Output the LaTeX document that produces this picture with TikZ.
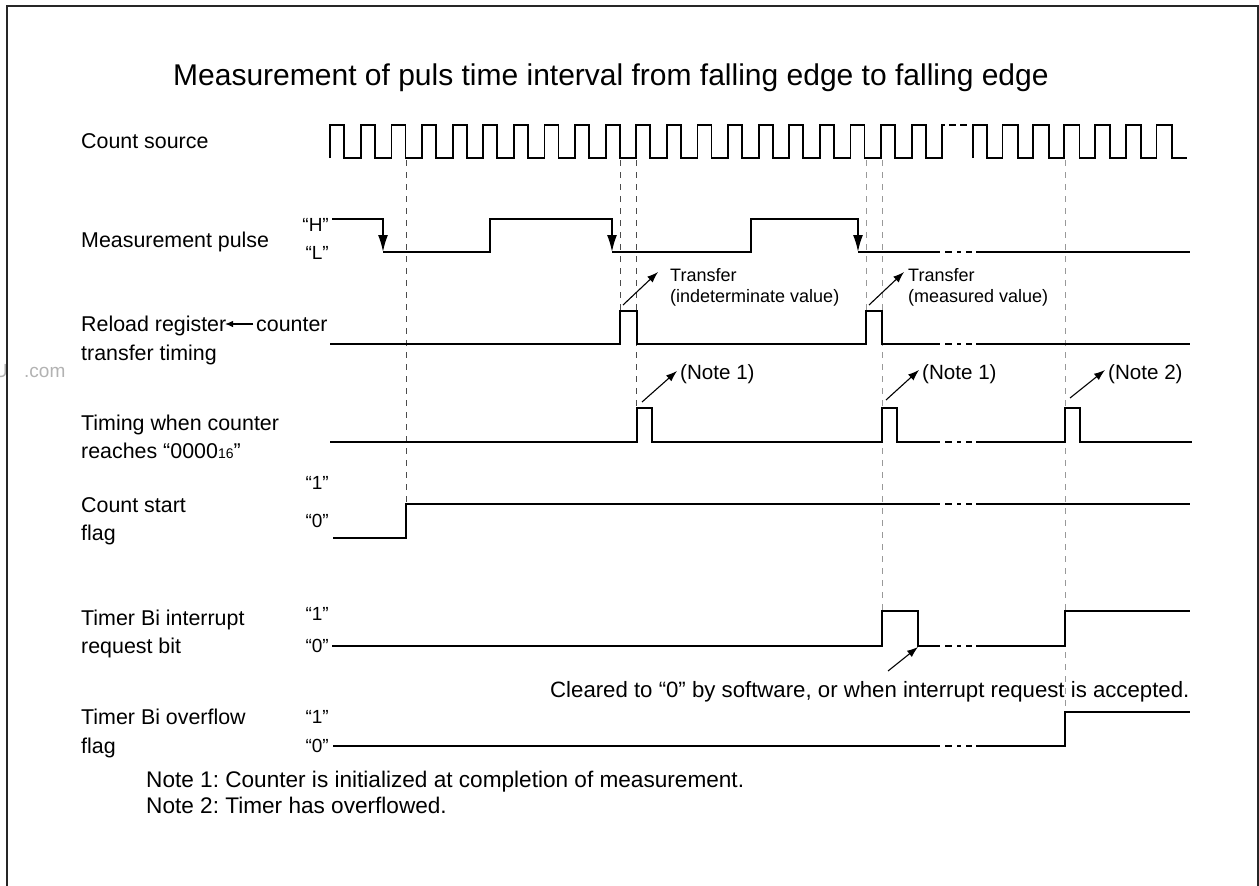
\documentclass[tikz,border=0pt]{standalone}
\usepackage{fontspec}
\setmainfont{Liberation Sans}
\usetikzlibrary{arrows.meta}
\newcommand\wbreak[1]{%
  \draw[wave,line cap=butt] (945,#1) -- (952,#1) (957,#1) -- (961,#1) (966,#1) -- (972,#1);}
\begin{document}
\frenchspacing
\begin{tikzpicture}[x=1pt,y=-1pt,
  wave/.style={line width=1.8pt, line join=miter},
  guidedark/.style={black!70, line width=0.9pt, dash pattern=on 6pt off 6pt},
  guidelight/.style={black!40, line width=0.9pt, dash pattern=on 6pt off 6pt},
  lbl/.style={anchor=base west, inner sep=0pt, font=\fontsize{21.4}{25}\selectfont},
  lvl/.style={anchor=base east, inner sep=0pt, font=\fontsize{19}{22}\selectfont},
  anno/.style={anchor=base west, inner sep=0pt, font=\fontsize{18}{21}\selectfont},
  notelbl/.style={anchor=base west, inner sep=0pt, font=\fontsize{20.6}{24}\selectfont},
  textlbl/.style={anchor=base west, inner sep=0pt, font=\fontsize{22.2}{26}\selectfont},
  pointer/.style={line width=1.1pt, -{Latex[length=11pt,width=8pt]}},
  edgearrow/.style={line width=1.8pt, -{Latex[length=17pt,width=10pt]}}]
\useasboundingbox (0,0) rectangle (1259,886);
% watermark
\node[anchor=base east, inner sep=0pt, text=black!30, font=\fontsize{19}{22}\selectfont] (wmu) at (8,377) {U};
\node[anchor=base west, inner sep=0pt, text=black!30, font=\fontsize{19}{22}\selectfont] (wmc) at (24,377) {.com};
% frame
\draw[line width=2pt, black!85] (7,890) -- (7,6) -- (1258,6) -- (1258,890);
% title
\node[anchor=base west, inner sep=0pt, font=\fontsize{30}{34}\selectfont] (title) at (173,85)
  {Measurement of puls time interval from falling edge to falling edge};
% left labels
\node[lbl] (cs) at (81,148) {Count source};
\node[lbl] (mp) at (81,247) {Measurement pulse};
\node[lbl] (rr) at (81,331) {Reload register};
\node[lbl] (rc) at (256,331) {counter};
\node[lbl] (tt) at (81,360) {transfer timing};
\node[lbl] (tw) at (81,430) {Timing when counter};
\node[lbl] (tr) at (81,458) {reaches “0000{\fontsize{14}{16}\selectfont 16}”};
\node[lbl] (st1) at (81,512) {Count start};
\node[lbl] (st2) at (81,540) {flag};
\node[lbl] (ir1) at (81,625) {Timer Bi interrupt};
\node[lbl] (ir2) at (81,653) {request bit};
\node[lbl] (of1) at (81,724) {Timer Bi overflow};
\node[lbl] (of2) at (81,753) {flag};
\coordinate (rca) at (253,324);
\coordinate (rra) at (225,324);
\draw[line width=1.2pt, -{Latex[length=8pt,width=6.5pt]}] (rca) -- (rra);
% level labels
\node[lvl] (lh) at (329,231) {“H”};
\node[lvl] (ll) at (329,259) {“L”};
\node[lvl] (s1) at (329,489) {“1”};
\node[lvl] (s0) at (329,527) {“0”};
\node[lvl] (i1) at (329,620) {“1”};
\node[lvl] (i0) at (329,652) {“0”};
\node[lvl] (o1) at (329,723) {“1”};
\node[lvl] (o0) at (329,752) {“0”};
% guides
\draw[guidedark] (406,160) -- (406,504);
\draw[guidedark] (620,160) -- (620,311);
\draw[guidedark] (636,160) -- (636,408);
\draw[guidelight] (866,160) -- (866,311);
\draw[guidelight] (882,160) -- (882,611);
\draw[guidelight] (1065,160) -- (1065,712);
% count source clock
\draw[wave] (330,158) -- (330,125)
  \foreach \k in {0,...,19} { -- ({344.3+30.6*\k},125) -- ({344.3+30.6*\k},158) -- ({360.8+30.6*\k},158) -- ({360.8+30.6*\k},125) }
  -- (945,125);
\draw[wave,line cap=butt] (949,125) -- (956,125) (960,125) -- (967,125);
\draw[wave] (973,158) -- (973,125)
  \foreach \k in {0,...,5} { -- ({987+30.8*\k},125) -- ({987+30.8*\k},158) -- ({1002.5+30.8*\k},158) -- ({1002.5+30.8*\k},125) }
  -- (1172,125) -- (1172,158) -- (1187,158);
% measurement pulse
\draw[wave] (332,219) -- (383,219);
\draw[edgearrow] (383,218) -- (383,252);
\draw[wave] (383,252) -- (490,252) -- (490,219) -- (612,219);
\draw[edgearrow] (612,218) -- (612,252);
\draw[wave] (612,252) -- (751,252) -- (751,219) -- (858,219);
\draw[edgearrow] (858,218) -- (858,252);
\draw[wave] (858,252) -- (940,252);
\wbreak{252}
\draw[wave] (976,252) -- (1190,252);
% reload register transfer timing
\draw[wave] (330,344) -- (620,344) -- (620,311) -- (637,311) -- (637,344) -- (866,344) -- (866,311) -- (882,311) -- (882,344) -- (940,344);
\wbreak{344}
\draw[wave] (976,344) -- (1190,344);
% timing counter reaches 0000
\draw[wave] (330,442) -- (637,442) -- (637,408) -- (652,408) -- (652,442) -- (882,442) -- (882,408) -- (897,408) -- (897,442) -- (940,442);
\wbreak{442}
\draw[wave] (976,442) -- (1065,442) -- (1065,408) -- (1080,408) -- (1080,442) -- (1192,442);
% count start flag
\draw[wave] (333,538) -- (406,538) -- (406,504) -- (940,504);
\wbreak{504}
\draw[wave] (976,504) -- (1190,504);
% interrupt request bit
\draw[wave] (332,646) -- (882,646) -- (882,611) -- (918,611) -- (918,646) -- (940,646);
\wbreak{646}
\draw[wave] (976,646) -- (1065,646) -- (1065,611) -- (1190,611);
% overflow flag
\draw[wave] (333,746) -- (940,746);
\wbreak{746}
\draw[wave] (976,746) -- (1065,746) -- (1065,712) -- (1190,712);
% annotations
\node[anno] (t1a) at (670,281) {Transfer};
\node[anno] (t1b) at (670,302) {(indeterminate value)};
\node[anno] (t2a) at (908,281) {Transfer};
\node[anno] (t2b) at (908,302) {(measured value)};
\coordinate (p1) at (623,305); \coordinate (q1) at (658,272);
\coordinate (p2) at (869,305); \coordinate (q2) at (904,272);
\draw[pointer] (p1) -- (q1);
\draw[pointer] (p2) -- (q2);
\node[notelbl] (n1) at (680,379) {(Note 1)};
\node[notelbl] (n2) at (922,379) {(Note 1)};
\node[notelbl] (n3) at (1108,379) {(Note 2)};
\coordinate (p3) at (642,402); \coordinate (q3) at (677,371);
\coordinate (p4) at (886,400); \coordinate (q4) at (919,370);
\coordinate (p5) at (1070,398); \coordinate (q5) at (1105,370);
\draw[pointer] (p3) -- (q3);
\draw[pointer] (p4) -- (q4);
\draw[pointer] (p5) -- (q5);
\node[textlbl] (clr) at (550,697) {Cleared to “0” by software, or when interrupt request is accepted.};
\coordinate (p6) at (888,671); \coordinate (q6) at (918,647);
\draw[pointer] (p6) -- (q6);
% notes
\node[textlbl, font=\fontsize{22.6}{26}\selectfont] (note1) at (146,787) {Note 1: Counter is initialized at completion of measurement.};
\node[textlbl, font=\fontsize{22.6}{26}\selectfont] (note2) at (146,813) {Note 2: Timer has overflowed.};
\end{tikzpicture}
\end{document}
